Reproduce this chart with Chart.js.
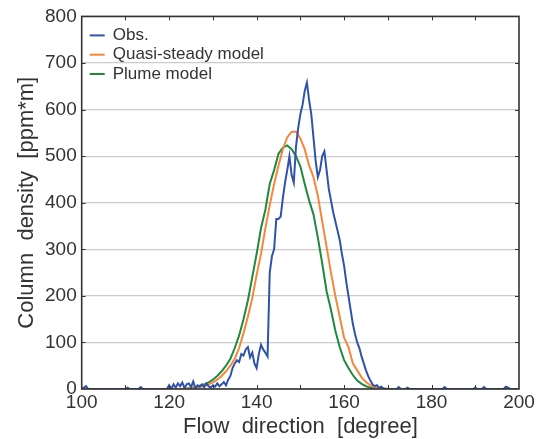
<!DOCTYPE html>
<html lang="en">
<head>
<meta charset="UTF-8">
<title>Column density</title>
<script src="https://cdn.jsdelivr.net/npm/chart.js"></script>
<style>
  html, body { margin: 0; padding: 0; background: #fff; }
  #wrap { position: relative; width: 541px; height: 439px; }
</style>
</head>
<body>
<div id="wrap"><canvas id="myChart"></canvas></div>
<script>
// observed column density, flow direction in degrees
const obsDeg = [100, 101, 101.5, 110, 110.5, 111, 113, 113.5, 114, 119.5,
  120, 120.5, 121, 121.5, 122, 122.5, 123, 123.5, 124, 124.5, 125, 125.5, 126, 126.5, 127, 127.5,
  128, 128.5, 129, 129.5, 130, 130.5, 131, 131.5, 132, 132.5, 133, 133.5, 134, 134.5, 135, 135.5,
  136, 136.5, 137, 137.5, 138, 138.5, 139, 139.5, 140, 140.5, 141, 141.5, 142, 142.5, 143, 143.5,
  144, 144.5, 145, 145.5, 146, 146.5, 147, 147.5, 148, 148.5, 149, 149.5, 150, 150.5, 151, 151.5,
  152, 152.5, 153, 153.5, 154, 154.5, 155, 155.5, 156, 156.5, 157, 157.5, 158, 158.5, 159, 159.5,
  160, 160.5, 161, 161.5, 162, 162.5, 163, 163.5, 164, 164.5, 165, 165.5, 166, 166.5, 167, 167.5,
  168, 168.5, 169, 170, 172, 172.5, 173, 174, 174.5, 175, 182.5, 183, 183.5, 189.5, 190, 190.5,
  191.5, 192, 192.5, 196.5, 197, 197.5, 198, 200];
const obsVal = [0, 6, 0, 0, 3, 0, 0, 4, 0, 0,
  8, 0, 10, 3, 12, 6, 14, 2, 10, 12, 4, 16, 2, 8, 5, 10,
  4, 12, 6, 3, 8, 5, 12, 6, 10, 15, 8, 20, 28, 45, 55, 62,
  58, 75, 72, 85, 90, 68, 78, 55, 45, 75, 95, 85, 78, 70, 250, 285,
  300, 365, 365, 370, 410, 443, 470, 500, 460, 443, 520, 560, 590, 610, 640, 658,
  620, 590, 540, 490, 455, 470, 500, 510, 470, 430, 405, 380, 360, 340, 320, 290,
  265, 230, 200, 170, 140, 118, 100, 88, 70, 55, 40, 28, 18, 10, 6, 8,
  3, 5, 1, 0, 0, 4, 0, 0, 3, 0, 0, 4, 0, 0, 3, 0,
  0, 4, 0, 0, 5, 3, 0, 0];

// model results at 1 degree steps
const modelDeg = [100, 123, 124, 125, 126, 127, 128, 129, 130, 131, 132, 133, 134, 135, 136, 137,
  138, 139, 140, 141, 142, 143, 144, 145, 146, 147, 148, 149, 150, 151, 152, 153, 154, 155,
  156, 157, 158, 159, 160, 161, 162, 163, 164, 165, 166, 167, 168, 169, 170, 200];
const quasiVal = [0, 0, 1, 1, 2, 4, 7, 10, 14, 20, 28, 38, 50, 65, 88, 120,
  155, 195, 245, 290, 345, 395, 440, 480, 515, 540, 552, 553, 538, 515, 480, 455, 415, 360,
  305, 250, 200, 155, 110, 90, 55, 40, 25, 15, 8, 4, 2, 1, 0, 0];
const plumeVal = [0, 0, 1, 2, 4, 7, 10, 14, 20, 28, 38, 50, 65, 88, 115, 150,
  190, 240, 290, 345, 385, 440, 470, 505, 518, 523, 515, 500, 478, 440, 405, 375, 325, 270,
  210, 170, 125, 90, 62, 45, 30, 18, 11, 6, 3, 1, 0, 0, 0, 0];

const seriesNames = ['Obs.', 'Quasi-steady model', 'Plume model'];
const seriesColors = ['#2f52aa', '#f5873a', '#1f8a3d'];

const toXY = (xs, ys) => xs.map((x, i) => ({ x: x, y: ys[i] }));

const ink = '#333';
const fam = '"Liberation Sans", Arial, sans-serif';

// frame, inward ticks and the inside legend
const framePlugin = {
  id: 'frame',
  afterDraw(chart) {
    const { ctx, chartArea: a, scales } = chart;
    ctx.save();
    ctx.strokeStyle = ink;
    ctx.lineWidth = 1;
    for (let v = 110; v < 200; v += 10) {
      const px = Math.round(scales.x.getPixelForValue(v)) + 0.5;
      const len = 4;
      ctx.beginPath();
      ctx.moveTo(px, a.bottom); ctx.lineTo(px, a.bottom - len);
      ctx.moveTo(px, a.top); ctx.lineTo(px, a.top + len);
      ctx.stroke();
    }
    for (let v = 100; v < 800; v += 100) {
      const py = Math.round(scales.y.getPixelForValue(v)) + 0.5;
      ctx.beginPath();
      ctx.moveTo(a.left, py); ctx.lineTo(a.left + 4, py);
      ctx.moveTo(a.right, py); ctx.lineTo(a.right - 4, py);
      ctx.stroke();
    }
    ctx.lineWidth = 1.6;
    ctx.strokeRect(a.left, a.top, a.right - a.left, a.bottom - a.top);

    ctx.font = '17px ' + fam;
    ctx.textBaseline = 'middle';
    seriesNames.forEach((name, i) => {
      const y = a.top + 19 + i * 19.3;
      ctx.strokeStyle = seriesColors[i];
      ctx.lineWidth = 2;
      ctx.beginPath();
      ctx.moveTo(a.left + 8, y); ctx.lineTo(a.left + 23, y);
      ctx.stroke();
      ctx.fillStyle = ink;
      ctx.fillText(name, a.left + 31, y);
    });
    ctx.restore();
  }
};

const ctx = document.getElementById('myChart');
const myChart = new Chart(ctx, {
  type: 'line',
  data: {
    datasets: [
      { label: seriesNames[0], data: toXY(obsDeg, obsVal), borderColor: seriesColors[0] },
      { label: seriesNames[1], data: toXY(modelDeg, quasiVal), borderColor: seriesColors[1] },
      { label: seriesNames[2], data: toXY(modelDeg, plumeVal), borderColor: seriesColors[2] }
    ]
  },
  options: {
    responsive: true,
    maintainAspectRatio: false,
    animation: false,
    layout: { padding: { left: 16, right: 22, top: 0, bottom: 0 } },
    elements: {
      line: { borderWidth: 2, tension: 0 },
      point: { radius: 0 }
    },
    plugins: {
      legend: { display: false },
      tooltip: { enabled: false }
    },
    scales: {
      x: {
        type: 'linear',
        min: 100, max: 200,
        ticks: { stepSize: 20, color: ink, padding: 4, font: { size: 19, family: fam, lineHeight: 1.0 } },
        grid: { display: false, drawTicks: false, tickLength: 0 },
        border: { display: false },
        title: {
          display: true, text: 'Flow  direction  [degree]', color: ink, padding: { top: 0, bottom: 1 },
          font: { size: 22, family: fam, lineHeight: 1.0 }
        }
      },
      y: {
        min: 0, max: 800,
        ticks: { stepSize: 100, color: ink, padding: 5, font: { size: 19, family: fam } },
        grid: { color: '#cccccc', lineWidth: 1.2, drawTicks: false },
        border: { display: false },
        title: {
          display: true, text: 'Column  density  [ppm*m]', color: ink, padding: { top: 0, bottom: 2 },
          font: { size: 22, family: fam, lineHeight: 1.0 }
        }
      }
    }
  },
  plugins: [framePlugin]
});
</script>
</body>
</html>
